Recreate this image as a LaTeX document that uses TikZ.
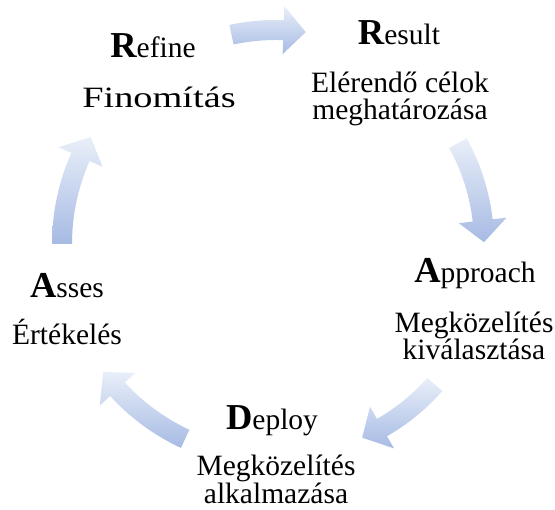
\documentclass[tikz,border=0pt]{standalone}
\usepackage{fontspec}
\setmainfont{Liberation Serif}
\usepackage{graphicx}
\usetikzlibrary{calc}

\definecolor{arrowlight}{RGB}{233,239,249}
\definecolor{arrowdark}{RGB}{166,186,227}

\tikzset{
  cyclearrow/.style={top color=arrowlight, bottom color=arrowdark, draw=none},
  label/.style={anchor=base, inner sep=0pt, font=\fontsize{29.5}{29.5}\selectfont},
}
% enlarged bold first letter of each step name
\newcommand\initial[1]{{\fontsize{36.5}{36.5}\selectfont\bfseries #1}}

% curved block arrow around the origin, running clockwise
% #1 tail angle, #2 tip angle, #3 radius of the centre line
\newcommand\ringarrow[3]{%
  \pgfmathsetmacro\hb{#2+6}%
  \pgfmathsetmacro\ro{#3+10}%
  \pgfmathsetmacro\ri{#3-10}%
  \pgfmathsetmacro\ho{#3+24}%
  \pgfmathsetmacro\hi{#3-24}%
  \path[cyclearrow] (#1:\ro) arc[start angle=#1, end angle=\hb, radius=\ro]
    -- (\hb:\ho) -- (#2:#3) -- (\hb:\hi) -- (\hb:\ri)
    arc[start angle=\hb, end angle=#1, radius=\ri] -- cycle;
}

\begin{document}
\begin{tikzpicture}[x=1pt, y=1pt]
  \useasboundingbox (0,0) rectangle (555,510);
  \fill[white] (0,0) rectangle (555,510);

  % arrows of the cycle
  \begin{scope}[shift={(276,266)}]
    \ringarrow{102}{82}{214}
    \ringarrow{29}{0.5}{208}
    \ringarrow{-41.5}{-66}{212}
    \ringarrow{-115}{-143.5}{215}
    \ringarrow{180}{150}{214}
  \end{scope}

  % Result
  \node[label] (resT) at (399,465) {\initial{R}esult};
  \node[label] (resA) at (400,417) {Elérendő célok};
  \node[label] (resB) at (400,390) {meghatározása};

  % Approach
  \node[label] (appT) at (475,227) {\initial{A}pproach};
  \node[label] (appA) at (474,177) {Megközelítés};
  \node[label] (appB) at (474,150) {kiválasztása};

  % Deploy
  \node[label] (depT) at (272,80) {\initial{D}eploy};
  \node[label] (depA) at (276,34) {Megközelítés};
  \node[label] (depB) at (276,6.5) {alkalmazása};

  % Asses
  \node[label] (assT) at (67,212) {\initial{A}sses};
  \node[label] (assA) at (67,165) {Értékelés};

  % Refine
  \node[label] (refT) at (153,452) {\initial{R}efine};
  \node[label] (refA) at (159,402) {\scalebox{1.3}[1]{Finomítás}};
\end{tikzpicture}
\end{document}
